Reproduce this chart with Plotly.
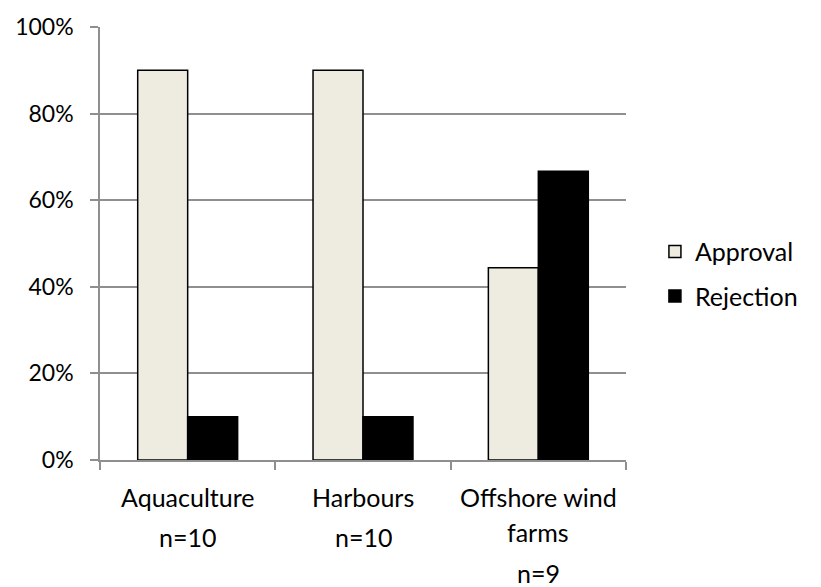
import plotly.graph_objects as go

categories = ["Aquaculture", "Harbours", "Offshore wind farms"]
name_lines = [["Aquaculture"], ["Harbours"], ["Offshore wind", "farms"]]
sample_sizes = ["n=10", "n=10", "n=9"]
approval = [0.90, 0.90, 0.444]
rejection = [0.10, 0.10, 0.667]

FONT = "Lato, Carlito, Calibri, sans-serif"
GRID = "#8f8f8f"

fig = go.Figure()
fig.add_trace(go.Bar(
    x=categories, y=approval, name="Approval",
    marker=dict(color="#EEECE1", line=dict(color="#000000", width=1.5)),
    legendgroup="a",
))
fig.add_trace(go.Bar(
    x=categories, y=rejection, name="Rejection",
    marker=dict(color="#000000", line=dict(color="#000000", width=1.5)),
    legendgroup="r",
))

# category labels below the axis: name line(s), then the sample size
for cat, lines, n in zip(categories, name_lines, sample_sizes):
    for i, txt in enumerate(lines):
        fig.add_annotation(x=cat, xref="x", y=0, yref="paper", yanchor="middle",
                           yshift=-37 - 35 * i, text=txt, showarrow=False,
                           font=dict(family=FONT, size=25, color="#000000"))
    n_shift = -77 if len(lines) == 1 else -113
    fig.add_annotation(x=cat, xref="x", y=0, yref="paper", yanchor="middle",
                       yshift=n_shift, text=n, showarrow=False, height=24,
                       font=dict(family=FONT, size=25, color="#000000"))

fig.update_layout(
    width=821, height=587,
    margin=dict(l=100, r=195, t=20, b=127),
    paper_bgcolor="white", plot_bgcolor="white",
    barmode="group", bargap=0.43, bargroupgap=0,
    font=dict(family=FONT, size=24, color="#000000"),
    showlegend=True,
    legend=dict(x=1.055, xanchor="left", y=0.43, yanchor="middle",
                font=dict(family=FONT, size=25), tracegroupgap=9,
                traceorder="grouped", itemwidth=30),
)
fig.update_xaxes(
    showticklabels=False, showgrid=False,
    showline=True, linecolor=GRID, linewidth=1.5,
    ticks="outside", tickson="boundaries", ticklen=8, tickcolor=GRID, tickwidth=1.5,
)
fig.update_yaxes(
    range=[0, 1], dtick=0.2, tickformat=".0%",
    showgrid=True, gridcolor=GRID, gridwidth=1.5,
    showline=True, linecolor=GRID, linewidth=1.5,
    ticks="outside", ticklen=8, tickcolor=GRID, tickwidth=1.5,
    ticklabelstandoff=12,
    zeroline=False, tickfont=dict(family=FONT, size=23),
)

fig.write_html("out.html")
